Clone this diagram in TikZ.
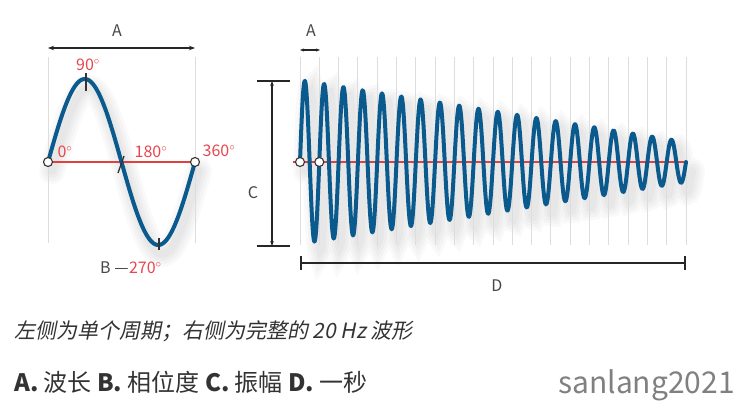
\documentclass[tikz,border=0pt]{standalone}
\usepackage{fontspec}
\setmainfont{Noto Sans CJK SC}
\newfontfamily\capfont[FakeSlant=0.2]{Noto Sans CJK SC}
\usetikzlibrary{arrows.meta}
\definecolor{wave}{HTML}{0B5A8E}
\definecolor{axisred}{HTML}{E0403F}
\definecolor{degred}{HTML}{E8474C}
\definecolor{ink}{HTML}{333333}
\definecolor{grid}{HTML}{DDDDDD}
\begin{document}
\begin{tikzpicture}[x=1pt, y=-1pt,
    letter/.style={font=\fontsize{16}{16}\selectfont, text=ink!90, inner sep=0pt},
    deg/.style={font=\fontsize{16}{16}\selectfont, text=degred, inner sep=0pt},
    gridline/.style={draw=grid, line width=1pt},
    redaxis/.style={draw=axisred, line width=1.6pt},
    wavecurve/.style={draw=wave, line width=4pt, line cap=round, line join=round},
    wavesh/.style={draw=black, line width=#1, opacity=0.022, line cap=round},
    zero/.style={circle, draw=ink, fill=white, line width=1.1pt, minimum size=9pt, inner sep=0pt},
    measure/.style={draw=black!85, line width=1.7pt},
    tickmark/.style={draw=ink, line width=1.3pt}]
    \useasboundingbox[fill=white] (0,0) rectangle (748,410);

    % soft shadows under both waves
    \foreach \w in {26,20,14,8} {
        \draw[wavesh=\w pt, shift={(4,9)}] plot[domain=48:195, samples=150] (\x, {162-83*sin((\x-48)/147*360)});
        \draw[wavesh=\w pt, shift={(6,9)}] plot[domain=300:686, samples=700] (\x, {162-(82-(\x-300)/386*62)*sin((\x-300)/19.3*360)});
    }

    % guide lines
    \draw[gridline] (48,57) -- (48,243);
    \draw[gridline] (195,57) -- (195,243);
    \foreach \i in {0,...,20}
        \draw[gridline] ({300+\i*19.3},57) -- ({300+\i*19.3},245);

    % one cycle
    \draw[redaxis] (48,162) -- (195,162);
    \draw[wavecurve] plot[domain=48:195, samples=150] (\x, {162-83*sin((\x-48)/147*360)});
    \node[zero] (z0) at (48,162) {};
    \node[zero] (z360) at (195,162) {};
    \draw[tickmark] (86,73) -- (86,91);
    \draw[tickmark] (118,173) -- (124,156);
    \draw[tickmark] (159,238) -- (159,250);

    \node[deg] (d90) at (88,65) {90$^{\circ}$};
    \node[deg] (d0) at (65,152) {0$^{\circ}$};
    \node[deg] (d180) at (151,152) {180$^{\circ}$};
    \node[deg] (d360) at (219,151) {360$^{\circ}$};
    \node[letter, anchor=west] (tB) at (100,268) {B —};
    \node[deg, anchor=west] (d270) at (tB.east) {270$^{\circ}$};

    \coordinate (aL) at (48,48);
    \coordinate (aR) at (195,48);
    \draw[measure, {Stealth[length=6pt]}-{Stealth[length=6pt]}] (aL) -- (aR);
    \node[letter] (tA) at (117,31) {A};

    % full 20 Hz wave
    \draw[redaxis] (293,162) -- (686,162);
    \draw[wavecurve] plot[domain=300:686, samples=700] (\x, {162-(82-(\x-300)/386*62)*sin((\x-300)/19.3*360)});
    \node[zero] (r0) at (300,162) {};
    \node[zero] (r1) at (319.3,162) {};

    \coordinate (bL) at (300,50);
    \coordinate (bR) at (320,50);
    \draw[measure, {Stealth[length=4pt]}-{Stealth[length=4pt]}] (bL) -- (bR);
    \node[letter] (tA2) at (311,31) {A};

    \coordinate (cT) at (272,81);
    \coordinate (cB) at (272,246);
    \coordinate (cTL) at (257,81);
    \coordinate (cTR) at (290,81);
    \coordinate (cBL) at (257,246);
    \coordinate (cBR) at (290,246);
    \draw[measure] (cTL) -- (cTR);
    \draw[measure] (cBL) -- (cBR);
    \draw[measure, {Stealth[length=5pt]}-{Stealth[length=5pt]}] (cT) -- (cB);
    \node[letter] (tC) at (253,193) {C};

    \coordinate (dL) at (300,263);
    \coordinate (dR) at (686,263);
    \draw[measure, {Bar[width=14pt]}-{Bar[width=14pt]}] (dL) -- (dR);
    \node[letter] (tD) at (497,286) {D};

    % caption
    \node[anchor=west, inner sep=0pt, text=ink, font=\capfont\fontsize{21}{21}\selectfont] (cap) at (14,331) {左侧为单个周期；右侧为完整的 20 Hz 波形};
    \node[anchor=west, inner sep=0pt, text=ink, font=\fontsize{24}{24}\selectfont] (key) at (14,382) {\textbf{A.} 波长 \textbf{B.} 相位度 \textbf{C.} 振幅 \textbf{D.} 一秒};
    \node[anchor=east, inner sep=0pt, text=black!50, font=\fontsize{30}{30}\selectfont] (mark) at (735,385) {sanlang2021};
\end{tikzpicture}
\end{document}
